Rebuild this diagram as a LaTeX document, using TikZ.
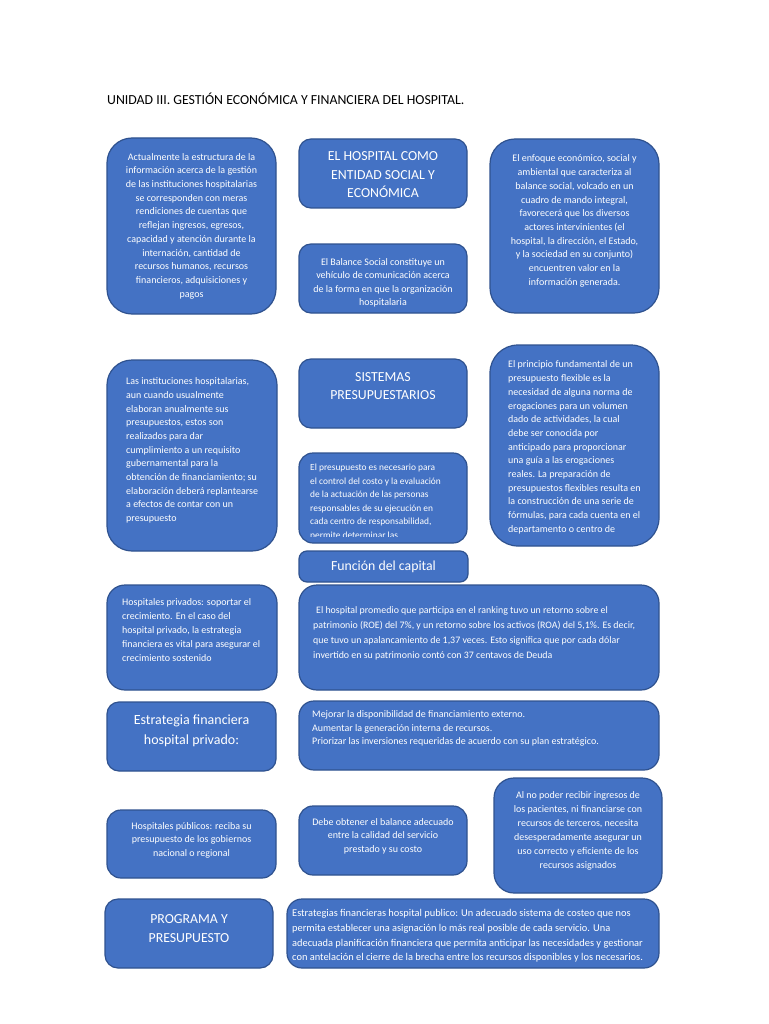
\documentclass[tikz,border=0pt]{standalone}
\usepackage{fontspec}
\setmainfont{Carlito}
\definecolor{azul}{HTML}{4472C4}
\definecolor{borde}{HTML}{2F528F}

\begin{document}
\begin{tikzpicture}[x=1pt,y=-1pt,
    caja/.style={draw=borde, fill=azul, line width=1.2pt},
    texto/.style={text=white, inner sep=0pt, align=center, font=\fontsize{10}{13.7}\selectfont},
    chico/.style={texto, font=\fontsize{10}{13.5}\selectfont},
    izq/.style={align=left, anchor=west},
    titulo/.style={texto, font=\fontsize{13.8}{18.5}\selectfont}]
    \useasboundingbox (0,0) rectangle (768,1024);

    %Heading
    \node[anchor=base west, inner sep=0pt, font=\fontsize{13.8}{16}\selectfont] (unidad) at (107,104.5)
    {UNIDAD III. GESTIÓN ECONÓMICA Y FINANCIERA DEL HOSPITAL.};

    %Top row
    \node[caja, rounded corners=25pt, minimum width=169pt, minimum height=176pt] (actual) at (191.5,226) {};
    \node[texto] (actualt) at (actual) {Actualmente la estructura de la\\información acerca de la gestión\\de las instituciones hospitalarias\\se corresponden con meras\\rendiciones de cuentas que\\reflejan ingresos, egresos,\\capacidad y atención durante la\\internación, cantidad de\\recursos humanos, recursos\\financieros, adquisiciones y\\pagos};

    \node[caja, rounded corners=12pt, minimum width=168pt, minimum height=69pt] (hospital) at (383,173.5) {};
    \node[titulo] (hospitalt) at (383,175) {EL HOSPITAL COMO\\ENTIDAD SOCIAL Y\\ECONÓMICA};

    \node[caja, rounded corners=12pt, minimum width=168pt, minimum height=69pt] (balance) at (383,278.5) {};
    \node[chico] (balancet) at (383,283) {El Balance Social constituye un\\vehículo de comunicación acerca\\de la forma en que la organización\\hospitalaria};

    \node[caja, rounded corners=25pt, minimum width=169pt, minimum height=174pt] (enfoque) at (574.5,226) {};
    \node[texto] (enfoquet) at (574.5,221) {El enfoque económico, social y\\ambiental que caracteriza al\\balance social, volcado en un\\cuadro de mando integral,\\favorecerá que los diversos\\actores intervinientes (el\\hospital, la dirección, el Estado,\\y la sociedad en su conjunto)\\encuentren valor en la\\información generada.};

    %Middle row
    \node[caja, rounded corners=25pt, minimum width=170pt, minimum height=191pt] (instituciones) at (192,455.5) {};
    \node[texto, izq] (institucionest) at (126,450.5) {Las instituciones hospitalarias,\\aun cuando usualmente\\elaboran anualmente sus\\presupuestos, estos son\\realizados para dar\\cumplimiento a un requisito\\gubernamental para la\\obtención de financiamiento; su\\elaboración deberá replantearse\\a efectos de contar con un\\presupuesto};

    \node[caja, rounded corners=12pt, minimum width=168pt, minimum height=69pt] (sistemas) at (383,393.5) {};
    \node[titulo] (sistemast) at (383,386) {SISTEMAS\\PRESUPUESTARIOS};

    \node[caja, rounded corners=14pt, minimum width=168pt, minimum height=90pt] (presupuesto) at (383,498) {};
    \begin{scope}
        \clip (299,453) rectangle (467,536.5);
        \node[chico, izq, font=\fontsize{9.4}{13.5}\selectfont] (presupuestot) at (310,502) {El presupuesto es necesario para\\el control del costo y la evaluación\\de la actuación de las personas\\responsables de su ejecución en\\cada centro de responsabilidad,\\permite determinar las};
    \end{scope}

    \node[caja, rounded corners=8pt, minimum width=169pt, minimum height=31pt] (capital) at (383.5,566.5) {};
    \node[titulo] (capitalt) at (capital) {Función del capital};

    \node[caja, rounded corners=28pt, minimum width=169pt, minimum height=201pt] (principio) at (574.5,445.5) {};
    \node[texto, izq] (principiot) at (508,447.5) {El principio fundamental de un\\presupuesto flexible es la\\necesidad de alguna norma de\\erogaciones para un volumen\\dado de actividades, la cual\\debe ser conocida por\\anticipado para proporcionar\\una guía a las erogaciones\\reales. La preparación de\\presupuestos flexibles resulta en\\la construcción de una serie de\\fórmulas, para cada cuenta en el\\departamento o centro de};

    %Private hospitals
    \node[caja, rounded corners=18pt, minimum width=170pt, minimum height=105pt] (privados) at (192,637.5) {};
    \node[texto, izq, font=\fontsize{10}{14.2}\selectfont] (privadost) at (122,630) {Hospitales privados: soportar el\\crecimiento. En el caso del\\hospital privado, la estrategia\\financiera es vital para asegurar el\\crecimiento sostenido};

    \node[caja, rounded corners=18pt, minimum width=360pt, minimum height=105pt] (promedio) at (479,637.5) {};
    \node[texto, izq, font=\fontsize{9.9}{15}\selectfont] (promediot) at (313,633) {\hspace{3pt}El hospital promedio que participa en el ranking tuvo un retorno sobre el\\patrimonio (ROE) del 7\%, y un retorno sobre los activos (ROA) del 5,1\%. Es decir,\\que tuvo un apalancamiento de 1,37 veces. Esto significa que por cada dólar\\invertido en su patrimonio contó con 37 centavos de Deuda};

    \node[caja, rounded corners=12pt, minimum width=169pt, minimum height=69pt] (estrategia) at (191.5,736.5) {};
    \node[titulo, font=\fontsize{14}{20}\selectfont] (estrategiat) at (191.5,731) {Estrategia financiera\\hospital privado:};

    \node[caja, rounded corners=15pt, minimum width=360pt, minimum height=69pt] (mejorar) at (479,735.5) {};
    \node[chico, izq] (mejorart) at (312,728.5) {Mejorar la disponibilidad de financiamiento externo.\\Aumentar la generación interna de recursos.\\Priorizar las inversiones requeridas de acuerdo con su plan estratégico.};

    %Public hospitals
    \node[caja, rounded corners=14pt, minimum width=169pt, minimum height=68pt] (publicos) at (191.5,844) {};
    \node[chico] (publicost) at (191.5,840) {Hospitales públicos: reciba su\\presupuesto de los gobiernos\\nacional o regional};

    \node[caja, rounded corners=14pt, minimum width=168pt, minimum height=69pt] (debe) at (383,840.5) {};
    \node[chico] (debet) at (383,836) {Debe obtener el balance adecuado\\entre la calidad del servicio\\prestado y su costo};

    \node[caja, rounded corners=20pt, minimum width=168pt, minimum height=115pt] (ingresos) at (578,835.5) {};
    \node[texto, font=\fontsize{10}{14}\selectfont] (ingresost) at (578,831) {Al no poder recibir ingresos de\\los pacientes, ni financiarse con\\recursos de terceros, necesita\\desesperadamente asegurar un\\uso correcto y eficiente de los\\recursos asignados};

    \node[caja, rounded corners=13pt, minimum width=168pt, minimum height=69pt] (programa) at (189,933.5) {};
    \node[titulo] (programat) at (189,928.5) {PROGRAMA Y\\PRESUPUESTO};

    \node[caja, rounded corners=15pt, minimum width=372pt, minimum height=69pt] (costeo) at (473,933.5) {};
    \node[chico, izq, font=\fontsize{10.4}{14.7}\selectfont] (costeot) at (292,936) {Estrategias financieras hospital publico: Un adecuado sistema de costeo que nos\\permita establecer una asignación lo más real posible de cada servicio. Una\\adecuada planificación financiera que permita anticipar las necesidades y gestionar\\con antelación el cierre de la brecha entre los recursos disponibles y los necesarios.};
\end{tikzpicture}
\end{document}
